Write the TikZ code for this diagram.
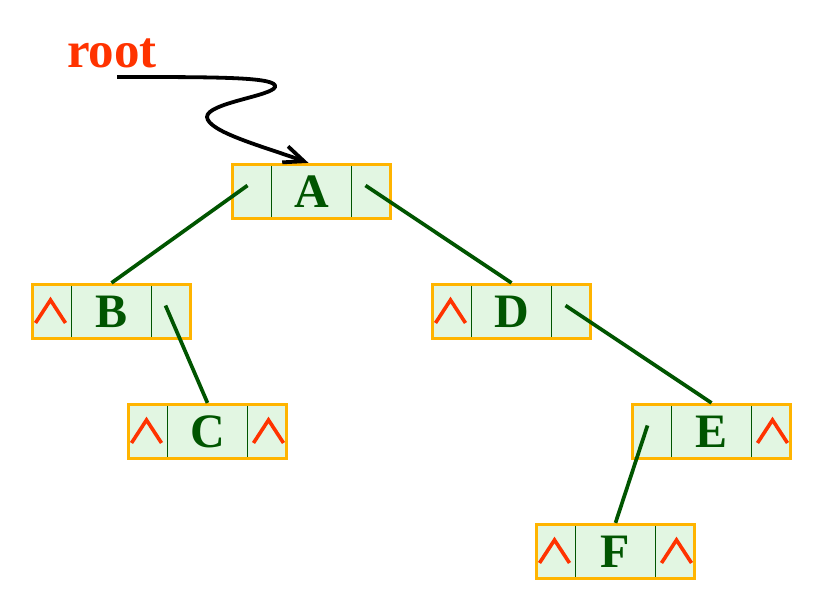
\documentclass[tikz,border=0pt]{standalone}
\usepackage{fontspec}
\setmainfont{Liberation Serif}
\usetikzlibrary{arrows.meta}

\definecolor{recordedge}{HTML}{FFB400}
\definecolor{cellfill}{HTML}{E2F6E2}
\definecolor{linkgreen}{HTML}{005500}
\definecolor{nullred}{HTML}{FF3300}

\tikzset{
  listrecord/.style={draw=recordedge, line width=3.2pt, fill=cellfill,
    minimum width=158pt, minimum height=54pt, inner sep=0pt,
    text=linkgreen, font=\fontsize{48}{48}\selectfont\bfseries},
  divider/.style={draw=linkgreen, line width=1pt},
  nullmark/.style={draw=nullred, line width=3.6pt, line join=miter},
  link/.style={draw=linkgreen, line width=3.7pt},
  pointer/.style={draw=black, line width=3.8pt,
    -{Straight Barb[length=20pt,width=17pt]}},
  rootlabel/.style={text=nullred, font=\fontsize{51}{51}\selectfont\bfseries,
    inner sep=0pt, anchor=base west}
}

% a three-cell record: left pointer | data | right pointer
\newcommand\listnode[3]{% name, centre, letter
  \node[listrecord] (#1) at #2 {\raisebox{-2pt}{#3}};
  \draw[divider] ([shift={(-40,3)}]#1.north) -- ([shift={(-40,-3)}]#1.south);
  \draw[divider] ([shift={(40,3)}]#1.north) -- ([shift={(40,-3)}]#1.south);
  \coordinate (#1-l) at ([shift={(-64,-6)}]#1.center);
  \coordinate (#1-r) at ([shift={(54,-6)}]#1.center);
}
% empty-pointer marks in the left or right cell
\newcommand\nullleft[1]{\draw[nullmark] ([shift={(-76,11.5)}]#1.center) -- ++(15,-23) -- ++(15,23);}
\newcommand\nullright[1]{\draw[nullmark] ([shift={(46,11.5)}]#1.center) -- ++(15,-23) -- ++(15,23);}

\begin{document}
\begin{tikzpicture}[x=1pt,y=-1pt]
  \useasboundingbox (0,0) rectangle (823,609);

  \listnode{A}{(311.5,191.5)}{A}
  \listnode{B}{(111.5,311.5)}{B}
  \listnode{D}{(511.5,311.5)}{D}
  \listnode{C}{(207.5,431.5)}{C}
  \listnode{E}{(711.5,431.5)}{E}
  \listnode{F}{(615.5,551.5)}{F}

  \nullleft{B}
  \nullleft{D}
  \nullleft{C}\nullright{C}
  \nullright{E}
  \nullleft{F}\nullright{F}

  % child links
  \draw[link] (A-l) -- (B.north);
  \draw[link] (A-r) -- (D.north);
  \draw[link] (B-r) -- (C.north);
  \draw[link] (D-r) -- (E.north);
  \draw[link] (E-l) -- (F.north);

  % root pointer
  \node[rootlabel] (root) at (67,68) {root};
  \coordinate (rootptr) at ([shift={(50,9)}]root.base west);
  \coordinate (A-in) at ([shift={(-3,0)}]A.north);
  \draw[pointer] (rootptr) .. controls (220,77) and (278,77) .. (275,87)
    .. controls (272,96) and (207,103) .. (207,117)
    .. controls (208,132) and (265,147) .. (A-in);
\end{tikzpicture}
\end{document}
